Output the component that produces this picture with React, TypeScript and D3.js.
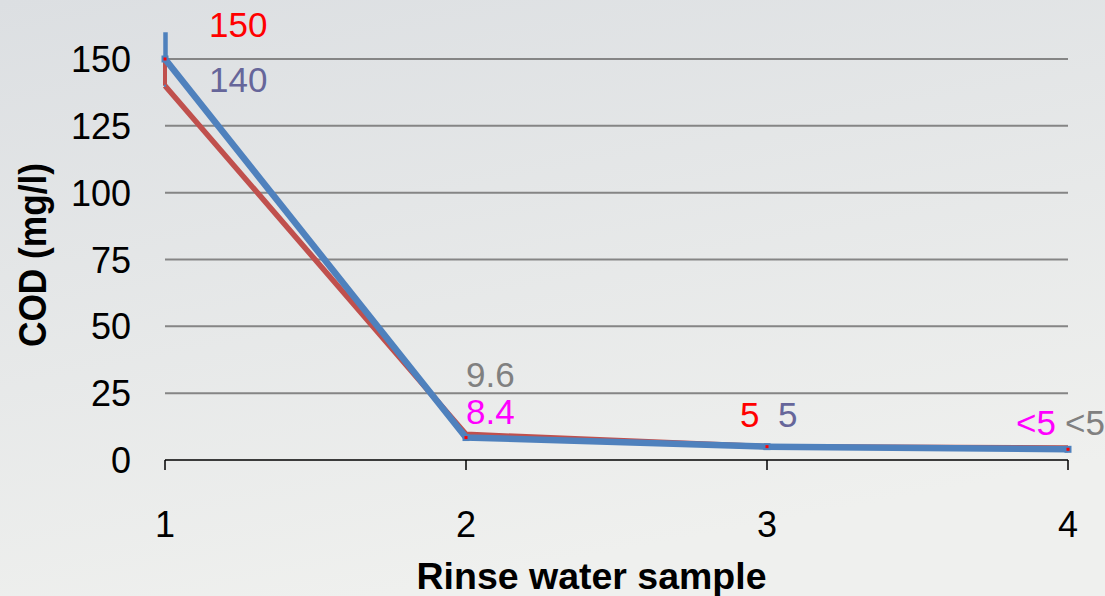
import React from "react";
import * as d3 from "d3";

// Rinse water samples and COD values (mg/l)
const samples = [1, 2, 3, 4];
const redSeries = [140, 9.6, 5, 4.5];
const blueSeries = [150, 8.4, 5, 4];
// vertical spikes drawn at sample 1
const redSpike = [140, 150];
const blueSpike = [150, 160];
const yTicks = [0, 25, 50, 75, 100, 125, 150];

const labelTexts = ["150", "140", "9.6", "8.4", "5", "5", "<5", "<5"];
const labelColors = ["#ff0000", "#66669a", "#808080", "#ff00ff", "#ff0000", "#66669a", "#ff00ff", "#808080"];

const W = 1105;
const H = 596;
const FONT = "'Liberation Sans', Arial, sans-serif";

export default function App() {
  const x = d3.scaleLinear().domain([1, 4]).range([165, 1068]);
  const y = d3.scaleLinear().domain([0, 150]).range([460, 59]);

  const line = d3
    .line<number>()
    .x((_, i) => x(samples[i]))
    .y((d) => y(d));

  // label placement: [sample, dx, baseline y]
  const placement: [number, number, number][] = [
    [1, 44, 37],
    [1, 44, 92],
    [2, 0, 387],
    [2, 0, 424],
    [3, -27, 427],
    [3, 11, 427],
    [4, -52, 435],
    [4, -3, 435],
  ];

  return (
    <svg
      width={W}
      height={H}
      style={{ position: "absolute", left: 0, top: 0, display: "block" }}
      fontFamily={FONT}
    >
      <defs>
        <linearGradient id="bg" x1="0" y1="0" x2="0.35" y2="1">
          <stop offset="0" stopColor="#dcdfe2" />
          <stop offset="1" stopColor="#eff0ee" />
        </linearGradient>
      </defs>
      <rect width={W} height={H} fill="url(#bg)" />

      {/* grid lines */}
      {yTicks
        .filter((t) => t > 0)
        .map((t) => (
          <line key={t} x1={x(1)} x2={x(4)} y1={y(t)} y2={y(t)} stroke="#858585" strokeWidth={2} />
        ))}

      {/* x axis */}
      <line x1={x(1)} x2={x(4)} y1={y(0)} y2={y(0)} stroke="#000" strokeWidth={1.5} />
      {samples.map((s) => (
        <line key={s} x1={x(s)} x2={x(s)} y1={y(0)} y2={y(0) + 10} stroke="#000" strokeWidth={1.5} />
      ))}
      {samples.map((s) => (
        <text key={s} x={x(s)} y={537} textAnchor="middle" fontSize={36} fill="#000">
          {s}
        </text>
      ))}

      {/* y tick labels */}
      {yTicks.map((t) => (
        <text key={t} x={131} y={y(t) + 13} textAnchor="end" fontSize={36} fill="#000">
          {t}
        </text>
      ))}

      {/* axis titles */}
      <text
        transform={`translate(46,255) rotate(-90)`}
        textAnchor="middle"
        fontSize={38}
        fontWeight="bold"
        fill="#000"
        textLength={184}
        lengthAdjust="spacingAndGlyphs"
      >
        COD (mg/l)
      </text>
      <text
        x={591.5}
        y={589}
        textAnchor="middle"
        fontSize={37}
        fontWeight="bold"
        fill="#000"
        textLength={350}
        lengthAdjust="spacingAndGlyphs"
      >
        Rinse water sample
      </text>

      {/* red series */}
      <line x1={x(1)} x2={x(1)} y1={y(redSpike[0])} y2={y(redSpike[1])} stroke="#c0504d" strokeWidth={4} />
      <path d={line(redSeries) || ""} fill="none" stroke="#c0504d" strokeWidth={5.5} />
      <rect x={x(1) - 1} y={y(redSeries[0]) - 1} width={2} height={2} fill="#4f81bd" />

      {/* blue series */}
      <line x1={x(1) + 0.5} x2={x(1) + 0.5} y1={y(blueSpike[0])} y2={y(blueSpike[1])} stroke="#4f81bd" strokeWidth={4.5} />
      <path d={line(blueSeries) || ""} fill="none" stroke="#4f81bd" strokeWidth={6.5} />
      {blueSeries.map((v, i) => (
        <g key={i}>
          <rect x={x(samples[i]) - 3.5} y={y(v) - 3.5} width={7} height={7} fill="#4f81bd" />
          <rect x={x(samples[i]) - 1.5} y={y(v) - 1.5} width={3} height={3} fill="#ff0000" />
        </g>
      ))}

      {/* data labels */}
      {labelTexts.map((t, i) => (
        <text
          key={i}
          x={x(placement[i][0]) + placement[i][1]}
          y={placement[i][2]}
          fontSize={35}
          fill={labelColors[i]}
        >
          {t}
        </text>
      ))}
    </svg>
  );
}
